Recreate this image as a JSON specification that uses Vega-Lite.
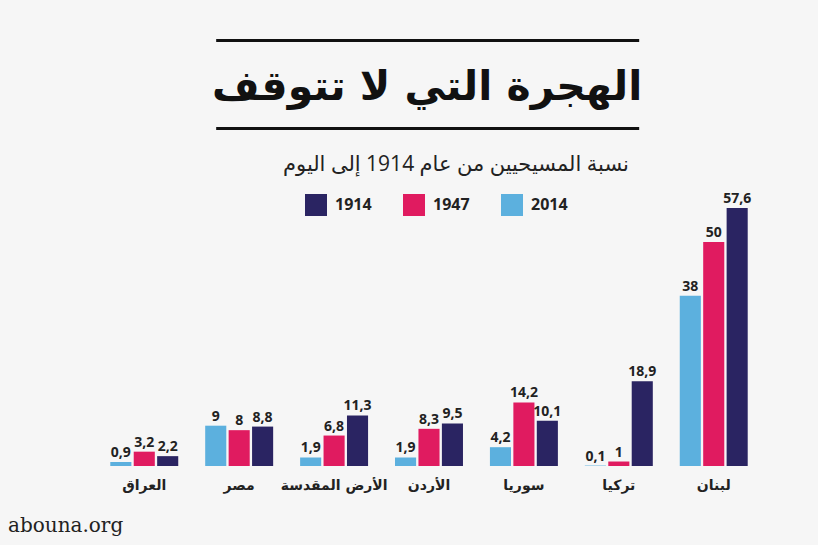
{
  "$schema": "https://vega.github.io/schema/vega-lite/v6.json",
  "background": "#f6f6f6",
  "padding": {"left": 8, "top": 40, "right": 62, "bottom": 20},
  "title": {"text": "abouna.org", "orient": "bottom", "anchor": "start", "dx": -89, "offset": 24, "font": "DejaVu Serif", "fontSize": 20, "fontWeight": "normal", "color": "#222"},
  "center": true,
  "spacing": 26,
  "vconcat": [
    {
      "width": 423,
      "height": 88,
      "data": {"values": [{}]},
      "layer": [
        {
          "mark": {"type": "text", "text": "الهجرة التي لا تتوقف", "font": "DejaVu Sans", "fontWeight": "bold", "fontSize": 41, "color": "#111", "baseline": "alphabetic"},
          "encoding": {
            "x": {"datum": 0.5, "type": "quantitative", "scale": {"domain": [0, 1]}, "axis": {"orient": "top", "domain": true, "domainColor": "#111", "domainWidth": 3, "ticks": false, "labels": false, "grid": false, "title": null}},
            "y": {"datum": 0.32, "type": "quantitative", "scale": {"domain": [0, 1]}, "axis": null}
          }
        },
        {
          "mark": {"type": "text", "text": ""},
          "encoding": {
            "x": {"datum": 0.5, "type": "quantitative", "scale": {"domain": [0, 1]}, "axis": {"orient": "bottom", "domain": true, "domainColor": "#111", "domainWidth": 3, "ticks": false, "labels": false, "grid": false, "title": null}},
            "y": {"datum": 0.5, "type": "quantitative", "scale": {"domain": [0, 1]}, "axis": null}
          }
        }
      ],
      "resolve": {"axis": {"x": "independent"}}
    },
    {
      "width": 664,
      "height": 258,
      "title": {"text": "نسبة المسيحيين من عام 1914 إلى اليوم", "font": "Open Sans, DejaVu Sans", "fontSize": 21, "fontWeight": "normal", "color": "#222", "anchor": "middle", "dx": 27, "offset": 17},
      "data": {
        "values": [
          {"country": "العراق", "year": "2014", "value": 0.9, "label": "0,9"},
          {"country": "العراق", "year": "1947", "value": 3.2, "label": "3,2"},
          {"country": "العراق", "year": "1914", "value": 2.2, "label": "2,2"},
          {"country": "مصر", "year": "2014", "value": 9, "label": "9"},
          {"country": "مصر", "year": "1947", "value": 8, "label": "8"},
          {"country": "مصر", "year": "1914", "value": 8.8, "label": "8,8"},
          {"country": "الأرض المقدسة", "year": "2014", "value": 1.9, "label": "1,9"},
          {"country": "الأرض المقدسة", "year": "1947", "value": 6.8, "label": "6,8"},
          {"country": "الأرض المقدسة", "year": "1914", "value": 11.3, "label": "11,3"},
          {"country": "الأردن", "year": "2014", "value": 1.9, "label": "1,9"},
          {"country": "الأردن", "year": "1947", "value": 8.3, "label": "8,3"},
          {"country": "الأردن", "year": "1914", "value": 9.5, "label": "9,5"},
          {"country": "سوريا", "year": "2014", "value": 4.2, "label": "4,2"},
          {"country": "سوريا", "year": "1947", "value": 14.2, "label": "14,2"},
          {"country": "سوريا", "year": "1914", "value": 10.1, "label": "10,1"},
          {"country": "تركيا", "year": "2014", "value": 0.1, "label": "0,1"},
          {"country": "تركيا", "year": "1947", "value": 1, "label": "1"},
          {"country": "تركيا", "year": "1914", "value": 18.9, "label": "18,9"},
          {"country": "لبنان", "year": "2014", "value": 38, "label": "38"},
          {"country": "لبنان", "year": "1947", "value": 50, "label": "50"},
          {"country": "لبنان", "year": "1914", "value": 57.6, "label": "57,6"}
        ]
      },
      "encoding": {
        "x": {
          "field": "country", "type": "nominal",
          "sort": ["العراق", "مصر", "الأرض المقدسة", "الأردن", "سوريا", "تركيا", "لبنان"],
          "scale": {"paddingInner": 0.284, "paddingOuter": 0.14},
          "axis": {"title": null, "domain": false, "ticks": false, "labelAngle": 0, "labelPadding": 12, "labelFont": "DejaVu Sans", "labelFontSize": 14, "labelFontWeight": "bold", "labelColor": "#222"}
        },
        "xOffset": {"field": "year", "type": "nominal", "sort": ["2014", "1947", "1914"], "scale": {"paddingInner": 0.1}},
        "y": {"field": "value", "type": "quantitative", "scale": {"domain": [0, 57.6], "nice": false, "zero": true}, "axis": null}
      },
      "layer": [
        {
          "mark": {"type": "bar"},
          "encoding": {
            "color": {
              "field": "year", "type": "nominal",
              "scale": {"domain": ["1914", "1947", "2014"], "range": ["#2a2462", "#e01b60", "#5cb0de"]},
              "legend": {
                "title": null, "orient": "none", "direction": "horizontal", "legendX": 208, "legendY": 154,
                "symbolType": "square", "symbolSize": 484, "symbolStrokeWidth": 0, "symbolOpacity": 1,
                "labelFont": "Open Sans", "labelFontSize": 16, "labelFontWeight": "bold", "labelColor": "#222",
                "labelOffset": 8, "columnPadding": 31
              }
            }
          }
        },
        {
          "mark": {"type": "text", "dy": -5, "font": "Open Sans", "fontSize": 14, "fontWeight": "bold", "color": "#222", "baseline": "alphabetic"},
          "encoding": {"text": {"field": "label", "type": "nominal"}}
        }
      ]
    }
  ],
  "config": {"view": {"stroke": null}}
}
